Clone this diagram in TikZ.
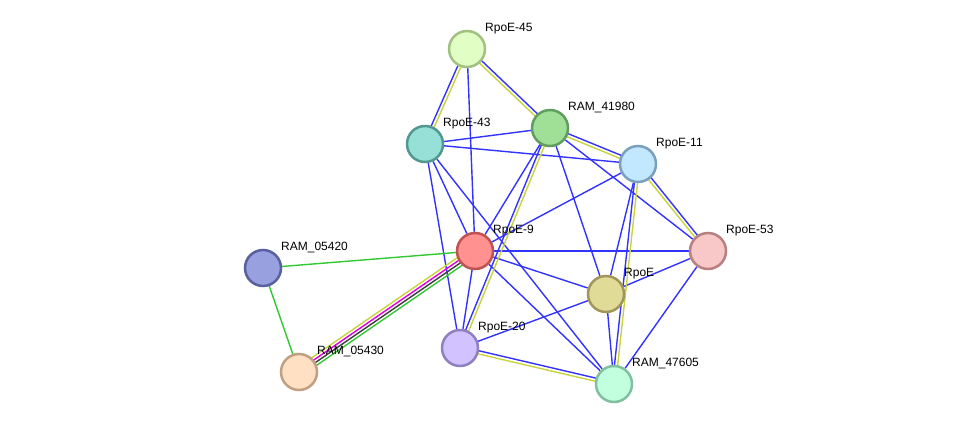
\documentclass[tikz,border=0pt]{standalone}
\usepackage{fontspec}
\setmainfont{Liberation Sans}
\usetikzlibrary{calc,backgrounds}

\definecolor{linkblue}{RGB}{51,51,255}
\definecolor{linkyellow}{RGB}{200,212,60}
\definecolor{linkgreen}{RGB}{50,200,50}
\definecolor{linkpink}{RGB}{225,0,225}
\definecolor{linkdark}{RGB}{60,60,60}

\tikzset{
  prot/.style={circle, line width=2.5pt, minimum size=36pt, inner sep=0pt},
  lbl/.style={anchor=west, inner sep=0pt, font=\fontsize{12}{14}\selectfont},
  link/.style={line width=1.4pt},
}

% one of several parallel lines, shifted sideways by #4
\newcommand{\sidelink}[4]{\draw[link,#3] ($(#1.center)!#4!90:(#2.center)$) -- ($(#2.center)!#4!-90:(#1.center)$);}

\begin{document}
\begin{tikzpicture}[x=1pt, y=-1pt]
    \useasboundingbox (0,0) rectangle (976,430);

    % --- proteins ---
    \node[prot, fill={rgb,255:red,225;green,255;blue,196}, draw={rgb,255:red,162;green,192;blue,130}] (p45) at (467,49) {};
    \node[prot, fill={rgb,255:red,160;green,224;blue,150}, draw={rgb,255:red,96;green,158;blue,96}] (p41980) at (550,128) {};
    \node[prot, fill={rgb,255:red,150;green,224;blue,216}, draw={rgb,255:red,80;green,152;blue,144}] (p43) at (425,144) {};
    \node[prot, fill={rgb,255:red,194;green,232;blue,255}, draw={rgb,255:red,122;green,160;blue,190}] (p11) at (638,164) {};
    \node[prot, fill={rgb,255:red,248;green,200;blue,200}, draw={rgb,255:red,184;green,128;blue,128}] (p53) at (708,251) {};
    \node[prot, fill={rgb,255:red,255;green,145;blue,145}, draw={rgb,255:red,192;green,82;blue,82}] (p9) at (475,251) {};
    \node[prot, fill={rgb,255:red,152;green,160;blue,224}, draw={rgb,255:red,88;green,96;blue,160}] (p05420) at (263,268) {};
    \node[prot, fill={rgb,255:red,224;green,220;blue,152}, draw={rgb,255:red,160;green,150;blue,90}] (prpoe) at (606,294) {};
    \node[prot, fill={rgb,255:red,210;green,194;blue,255}, draw={rgb,255:red,144;green,128;blue,192}] (p20) at (460,348) {};
    \node[prot, fill={rgb,255:red,255;green,224;blue,194}, draw={rgb,255:red,192;green,160;blue,128}] (p05430) at (299,372) {};
    \node[prot, fill={rgb,255:red,194;green,255;blue,222}, draw={rgb,255:red,128;green,192;blue,160}] (p47605) at (614,384) {};

    % --- names ---
    \node[lbl] (l45) at ($(p45)+(18,-20)$) {RpoE-45};
    \node[lbl] (l41980) at ($(p41980)+(18,-20)$) {RAM\_41980};
    \node[lbl] (l43) at ($(p43)+(18,-20)$) {RpoE-43};
    \node[lbl] (l11) at ($(p11)+(18,-20)$) {RpoE-11};
    \node[lbl] (l53) at ($(p53)+(18,-20)$) {RpoE-53};
    \node[lbl] (l9) at ($(p9)+(18,-20)$) {RpoE-9};
    \node[lbl] (l05420) at ($(p05420)+(18,-20)$) {RAM\_05420};
    \node[lbl] (lrpoe) at ($(prpoe)+(18,-20)$) {RpoE};
    \node[lbl] (l20) at ($(p20)+(18,-20)$) {RpoE-20};
    \node[lbl] (l05430) at ($(p05430)+(18,-20)$) {RAM\_05430};
    \node[lbl] (l47605) at ($(p47605)+(18,-20)$) {RAM\_47605};

    \begin{pgfonlayer}{background}
        % single blue links
        \foreach \a/\b in {p45/p9, p43/p41980, p43/p11, p43/p20, p43/p9, p43/p47605,
                           p41980/p53, p41980/prpoe, p41980/p9, p11/p9, p11/prpoe,
                           p53/p9, p53/prpoe, p53/p47605, p9/prpoe, p9/p20, p9/p47605,
                           p20/prpoe, prpoe/p47605}
            \draw[link, linkblue] (\a) -- (\b);

        % blue + yellow pairs
        \foreach \a/\b in {p43/p45, p45/p41980, p41980/p11, p20/p41980, p11/p53, p47605/p11, p20/p47605} {
            \sidelink{\a}{\b}{linkblue}{1.6pt}
            \sidelink{\a}{\b}{linkyellow}{-1.6pt}
        }

        % green links
        \draw[link, linkgreen] (p9) -- (p05420);
        \draw[link, linkgreen] (p05420) -- (p05430);

        % four-fold link
        \sidelink{p05430}{p9}{linkyellow}{4.5pt}
        \sidelink{p05430}{p9}{linkpink}{1.5pt}
        \sidelink{p05430}{p9}{linkdark}{-1.5pt}
        \sidelink{p05430}{p9}{linkgreen}{-4.5pt}
    \end{pgfonlayer}
\end{tikzpicture}
\end{document}
